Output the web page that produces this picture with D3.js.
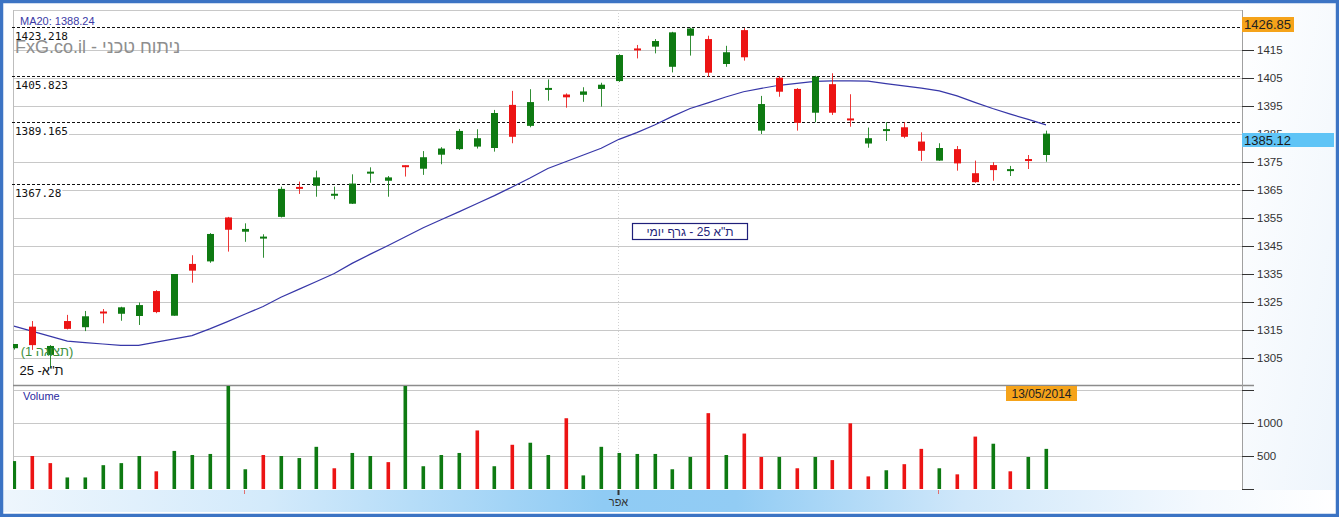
<!DOCTYPE html>
<html><head><meta charset="utf-8">
<script src="https://cdn.jsdelivr.net/npm/d3@7/dist/d3.min.js"></script>
<style>html,body{margin:0;padding:0;background:#fff;overflow:hidden}</style>
</head><body><svg id="c" width="1339" height="517"></svg>
<script>
// ---- data ----
const openP  = [1308.5,1316.2,1306.1,1318.2,1316.0,1321.5,1320.8,1320.0,1328.9,1320.1,1338.6,1339.5,1355.2,1350.1,1347.8,1355.4,1366.0,1366.5,1363.1,1360.1,1371.0,1368.3,1373.7,1372.6,1377.6,1379.6,1380.5,1380.0,1395.4,1387.9,1400.8,1399.1,1399.0,1401.1,1403.9,1415.4,1416.2,1409.0,1420.1,1418.9,1410.0,1422.1,1386.2,1405.1,1401.1,1392.6,1402.8,1390.4,1381.6,1386.2,1387.4,1382.3,1375.5,1379.6,1371.0,1373.9,1371.9,1375.9,1377.5];
const highP  = [1310.0,1318.2,1309.6,1320.4,1321.8,1322.5,1323.3,1324.8,1329.2,1335.0,1341.7,1349.6,1355.4,1353.1,1349.2,1366.2,1368.0,1371.9,1366.2,1370.6,1373.1,1370.0,1373.8,1378.9,1380.3,1386.8,1386.7,1393.6,1400.4,1401.0,1404.5,1399.5,1401.7,1403.3,1413.5,1416.8,1418.9,1421.5,1423.0,1420.1,1416.5,1422.8,1398.6,1405.7,1401.4,1405.8,1406.7,1399.2,1387.3,1389.2,1389.2,1385.6,1381.7,1380.7,1375.5,1374.9,1373.6,1377.5,1386.2];
const lowP   = [1308.0,1307.9,1301.3,1315.2,1314.6,1317.4,1318.3,1316.8,1321.0,1320.1,1331.9,1339.0,1343.0,1346.5,1340.8,1355.2,1363.6,1362.6,1361.7,1360.0,1367.6,1362.6,1369.8,1370.4,1374.2,1379.3,1379.8,1378.7,1381.7,1387.4,1396.9,1394.4,1396.5,1394.8,1403.6,1412.0,1413.8,1407.0,1413.0,1405.5,1409.0,1411.2,1385.0,1398.3,1386.2,1389.2,1391.8,1387.6,1380.1,1382.5,1383.5,1375.4,1375.4,1371.9,1367.6,1368.3,1370.0,1372.5,1375.1];
const closeP = [1310.0,1309.6,1309.3,1315.4,1319.9,1321.0,1323.1,1323.9,1321.4,1335.0,1336.2,1349.3,1350.8,1351.1,1348.2,1365.4,1365.5,1369.5,1363.5,1367.3,1371.4,1369.5,1373.3,1376.7,1379.8,1386.1,1383.5,1392.5,1384.0,1396.4,1401.4,1398.1,1400.2,1402.6,1413.2,1415.0,1418.2,1421.3,1422.7,1406.9,1414.2,1412.4,1395.7,1400.1,1389.0,1405.5,1392.6,1390.0,1383.5,1386.6,1384.0,1379.0,1380.0,1374.5,1367.8,1372.1,1372.3,1375.5,1385.12];
const ma20   = [1316.4,1314.6,1312.8,1311.0,1310.5,1310.0,1309.5,1309.5,1310.7,1311.8,1313.0,1315.4,1318.0,1320.7,1323.4,1326.7,1329.5,1332.3,1335.2,1338.8,1342.0,1345.1,1348.3,1351.5,1354.4,1357.2,1360.1,1363.0,1366.1,1369.3,1372.7,1375.1,1377.5,1379.9,1383.1,1385.5,1388.2,1391.3,1394.1,1396.1,1398.2,1400.1,1401.3,1402.4,1403.1,1403.8,1404.0,1404.0,1403.9,1403.0,1402.2,1401.4,1400.4,1398.6,1396.3,1394.1,1392.1,1390.2,1388.24];
const volume = [423,500,392,175,175,361,392,500,268,577,515,531,1750,299,515,500,469,639,314,546,500,407,1800,345,515,546,887,345,670,701,515,1072,206,639,546,531,531,299,485,1149,515,840,485,485,314,485,438,995,191,284,376,608,314,222,794,686,268,485,608];
const volDir = ("udduuuuudu" + "uuuuduuudu" + "uduuuududu" + "uduuuuuuud" + "uddududddu" + "ddudduduu").split("");
const levels = [1423.218, 1405.823, 1389.165, 1367.28];
const priceTicks = [1305,1315,1325,1335,1345,1355,1365,1375,1385,1395,1405,1415];
const volTicks = [0,500,1000,1500];
const volLabels = [500,1000];
const monthTicks = [{i:13,label:""},{i:34,label:"אפר"},{i:52,label:""}];
const lastClose = "1385.12", topPrice = "1426.85", lastDate = "13/05/2014", maLabel = "MA20: 1388.24";

// ---- layout ----
const svg = d3.select("#c");
const L = 13, R = 1242, pTop = 10, pBot = 385, vBot = 489;
const x = d3.scaleLinear().domain([0, 58]).range([14, 1046]);
const y = d3.scaleLinear().domain([1305, 1415]).range([358, 50]);
const yv = d3.scaleLinear().domain([0, 1000]).range([vBot, 423]);
const UP = "#0e7a12", DN = "#ec1414";
const FONT = "'Liberation Sans', Arial, sans-serif";

const defs = svg.append("defs");
const gb = defs.append("linearGradient").attr("id","gb").attr("x1","0").attr("x2","1").attr("y1","0").attr("y2","0");
[[0,"#eef6fd"],[0.2,"#d3eafb"],[0.45,"#8fcbf4"],[0.55,"#92ccf4"],[0.72,"#cfe7fa"],[0.9,"#f4f9fe"],[1,"#ffffff"]].forEach(s=>gb.append("stop").attr("offset",s[0]).attr("stop-color",s[1]));
const gr = defs.append("linearGradient").attr("id","gr").attr("x1","0").attr("x2","1").attr("y1","0").attr("y2","1");
[[0,"#ffffff"],[1,"#eef5fc"]].forEach(s=>gr.append("stop").attr("offset",s[0]).attr("stop-color",s[1]));
defs.append("clipPath").attr("id","cp").append("rect").attr("x",L).attr("y",pTop).attr("width",R-L).attr("height",pBot-pTop);
defs.append("clipPath").attr("id","cv").append("rect").attr("x",L).attr("y",pBot+1).attr("width",R-L).attr("height",vBot-pBot-1);

svg.append("rect").attr("width",1339).attr("height",517).attr("fill","#fff");
svg.append("rect").attr("x",R).attr("y",3).attr("width",1335-R).attr("height",490-3).attr("fill","url(#gr)");
svg.append("rect").attr("x",3).attr("y",490).attr("width",1333).attr("height",22).attr("fill","url(#gb)");

// grid
const grid = svg.append("g").attr("stroke","#c8c8c8").attr("stroke-width",1).attr("shape-rendering","crispEdges");
priceTicks.forEach(t=>grid.append("line").attr("x1",L).attr("x2",R).attr("y1",Math.round(y(t))+0.5).attr("y2",Math.round(y(t))+0.5));
volTicks.filter(t=>t>0).forEach(t=>grid.append("line").attr("x1",L).attr("x2",R).attr("y1",Math.round(yv(t))+0.5).attr("y2",Math.round(yv(t))+0.5));
grid.append("line").attr("x1",L).attr("x2",R).attr("y1",pTop+0.5).attr("y2",pTop+0.5);
grid.append("line").attr("x1",L+0.5).attr("x2",L+0.5).attr("y1",pTop).attr("y2",vBot).attr("stroke","#bdbdbd");
// month separator (dotted)
svg.append("line").attr("x1",Math.round(x(34))-0.5).attr("x2",Math.round(x(34))-0.5).attr("y1",pTop).attr("y2",vBot)
  .attr("stroke","#d2d2d2").attr("stroke-dasharray","1,2");

// levels
const lv = svg.append("g");
levels.forEach(v=>{
  const yy = Math.round(y(v))+0.5;
  lv.append("line").attr("x1",L-1).attr("x2",R).attr("y1",yy).attr("y2",yy).attr("stroke","#111").attr("stroke-dasharray","3,2").attr("shape-rendering","crispEdges");
  const t = lv.append("text").attr("x",15).attr("y",yy+12).attr("font-family","'DejaVu Sans Mono', monospace").attr("font-size",11).attr("fill","#111").text(String(v));
  const bb = t.node().getBBox();
  lv.insert("rect","text").attr("x",bb.x-1).attr("y",bb.y+1).attr("width",bb.width+2).attr("height",bb.height-1).attr("fill","#fff");
});

// watermark
svg.append("text").attr("x",15).attr("y",53).attr("font-family",FONT).attr("font-size",18).attr("fill","#8e8e8e").text("FxG.co.il - ניתוח טכני");
svg.append("text").attr("x",20).attr("y",25).attr("font-family",FONT).attr("font-size",11).attr("fill","#3a3aa6").text(maLabel);

// MA line
const pg = svg.append("g").attr("clip-path","url(#cp)");
pg.append("path").datum(ma20).attr("fill","none").attr("stroke","#3737a8").attr("stroke-width",1.2)
  .attr("d", d3.line().x((d,i)=>x(i)).y(d=>y(d)));

// candles
const idx = d3.range(openP.length);
const cg = pg.append("g");
idx.forEach(i=>{
  const up = closeP[i] >= openP[i];
  const col = up ? UP : DN;
  const cx = Math.round(x(i)) + 0.5;
  cg.append("line").attr("x1",cx).attr("x2",cx).attr("y1",y(highP[i])).attr("y2",y(lowP[i])).attr("stroke",col).attr("stroke-width",1).attr("opacity",0.85);
  const y0 = y(Math.max(openP[i],closeP[i])), y1 = y(Math.min(openP[i],closeP[i]));
  const h = Math.max(2, y1-y0);
  cg.append("rect").attr("x",cx-3.5).attr("y",(y0+y1)/2-h/2).attr("width",7).attr("height",h).attr("fill",col);
});

// labels in the price panel
svg.append("text").attr("x",47).attr("y",356).attr("text-anchor","middle").attr("direction","rtl").attr("font-family",FONT).attr("font-size",13).attr("fill","#3d8f3d").text("(תצוגה 1)");
svg.append("text").attr("x",41.5).attr("y",375).attr("text-anchor","middle").attr("direction","rtl").attr("font-family",FONT).attr("font-size",13).attr("fill","#111").text("ת\"א- 25");

// centre title box
svg.append("rect").attr("x",632.5).attr("y",223.5).attr("width",115).attr("height",16).attr("fill","#fff").attr("stroke","#1f1f7a").attr("stroke-width",1.2);
svg.append("text").attr("x",690).attr("y",236).attr("text-anchor","middle").attr("direction","rtl").attr("font-family",FONT).attr("font-size",12).attr("fill","#1f1f7a").text("ת\"א 25 - גרף יומי");

// separator
svg.append("line").attr("x1",L).attr("x2",R+12).attr("y1",pBot+0.5).attr("y2",pBot+0.5).attr("stroke","#8c8c8c").attr("stroke-width",1.5);

// volume
const vg = svg.append("g").attr("clip-path","url(#cv)");
idx.forEach(i=>{
  vg.append("rect").attr("x",Math.round(x(i))-1.5).attr("y",yv(volume[i])).attr("width",3.6).attr("height",vBot-yv(volume[i]))
    .attr("fill", volDir[i]==="u" ? UP : DN);
});
svg.append("text").attr("x",23).attr("y",400).attr("font-family",FONT).attr("font-size",11).attr("fill","#2a2aa0").text("Volume");

// right axes
svg.append("line").attr("x1",R+0.5).attr("x2",R+0.5).attr("y1",pTop).attr("y2",490).attr("stroke","#a0a0a0");
const ay = svg.append("g").attr("transform",`translate(${R},0)`)
  .call(d3.axisRight(y).tickValues(priceTicks).tickSize(12).tickSizeOuter(0).tickPadding(3).tickFormat(d3.format("d")));
ay.select(".domain").remove();
ay.selectAll("line").attr("stroke","#333");
ay.selectAll("text").attr("font-family",FONT).attr("font-size",11.5).attr("fill","#333");
const av = svg.append("g").attr("transform",`translate(${R},0)`)
  .call(d3.axisRight(yv).tickValues(volTicks).tickSize(12).tickSizeOuter(0).tickPadding(3).tickFormat(d=>volLabels.includes(d)?String(d):""));
av.select(".domain").remove();
av.selectAll("line").attr("stroke","#333");
av.selectAll("text").attr("font-family",FONT).attr("font-size",11.5).attr("fill","#333");

// price tags
svg.append("rect").attr("x",R).attr("y",17).attr("width",52).attr("height",15).attr("fill","#f5a31a");
svg.append("text").attr("x",R+2).attr("y",29).attr("font-family",FONT).attr("font-size",13).attr("fill","#222").text(topPrice);
svg.append("rect").attr("x",R).attr("y",133).attr("width",92).attr("height",14).attr("fill","#5fc4f6");
svg.append("text").attr("x",R+2).attr("y",145).attr("font-family",FONT).attr("font-size",13).attr("fill","#1a1a1a").text(lastClose);

// date tag
svg.append("rect").attr("x",1006).attr("y",386).attr("width",71).attr("height",15).attr("fill","#f5a31a");
svg.append("text").attr("x",1041.5).attr("y",398).attr("text-anchor","middle").attr("font-family",FONT).attr("font-size",12).attr("fill","#222").text(lastDate);

// month ticks
monthTicks.forEach(m=>{
  const mx = Math.round(x(m.i))-0.5;
  svg.append("line").attr("x1",mx).attr("x2",mx).attr("y1",vBot+1).attr("y2",vBot+(m.label?6:5))
    .attr("stroke", m.label ? "#333" : "#e07070").attr("stroke-width", m.label?2:1);
  if (m.label) svg.append("text").attr("x",mx).attr("y",506).attr("text-anchor","middle").attr("font-family",FONT).attr("font-size",11).attr("fill","#333").text(m.label);
});

// outer frame
svg.append("rect").attr("x",1.5).attr("y",1.5).attr("width",1336).attr("height",514).attr("fill","none").attr("stroke","#3c74c4").attr("stroke-width",3.5);
</script></body></html>
